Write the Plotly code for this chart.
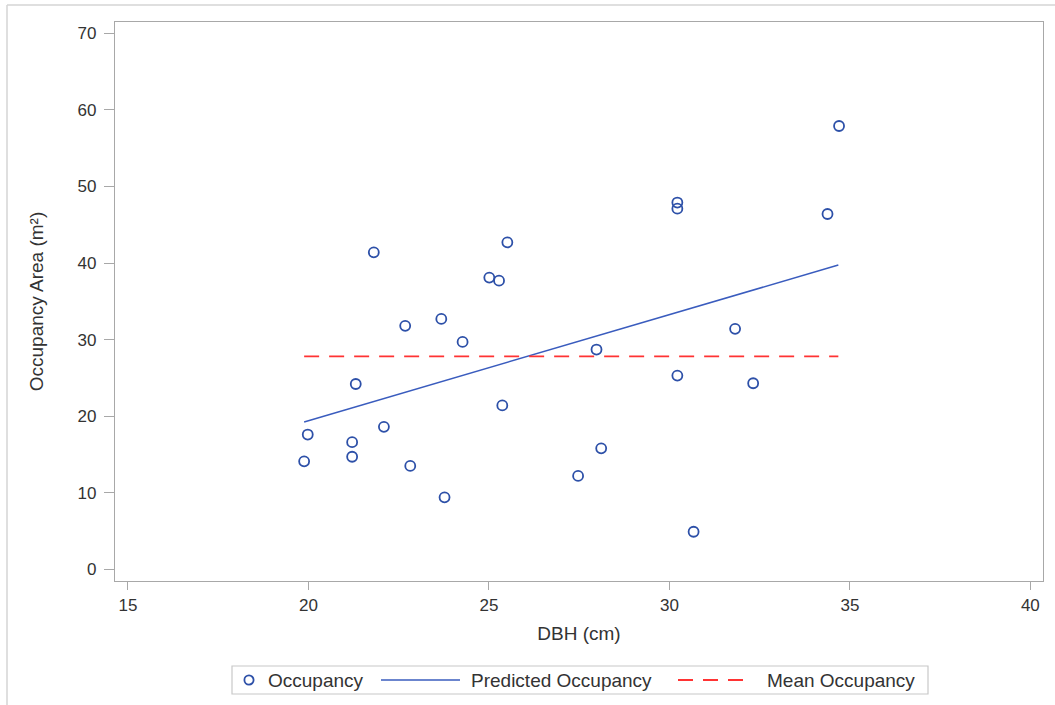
import plotly.graph_objects as go

# Data
dbh = [19.88, 19.98, 21.21, 21.21, 21.31, 21.81, 22.09, 22.68, 22.82, 23.68,
       23.77, 24.27, 25.01, 25.28, 25.37, 25.51, 27.47, 27.98, 28.11, 30.22,
       30.22, 30.22, 30.67, 31.82, 32.32, 34.38, 34.70]
occupancy = [14.1, 17.6, 16.6, 14.7, 24.2, 41.4, 18.6, 31.8, 13.5, 32.7,
             9.4, 29.7, 38.1, 37.7, 21.4, 42.7, 12.2, 28.7, 15.8, 47.9,
             47.1, 25.3, 4.9, 31.4, 24.3, 46.4, 57.9]
pred_x = [19.88, 34.68]
pred_y = [19.24, 39.74]
mean_x = [19.88, 34.68]
mean_y = [27.82, 27.82]
x_ticks = [15, 20, 25, 30, 35, 40]
y_ticks = [0, 10, 20, 30, 40, 50, 60, 70]
series_names = ["Occupancy", "Predicted Occupancy", "Mean Occupancy"]

BLUE = "#2D50A8"
LINE_BLUE = "#3A5CBE"
RED = "#FF3333"
TXT = "#333333"
FONT = "Liberation Sans, Arial, sans-serif"

fig = go.Figure()
fig.add_trace(go.Scatter(
    x=dbh, y=occupancy, mode="markers", name=series_names[0],
    marker=dict(symbol="circle-open", size=10, color=BLUE, line=dict(width=1.8, color=BLUE)),
))
fig.add_trace(go.Scatter(
    x=pred_x, y=pred_y, mode="lines", name=series_names[1],
    line=dict(color=LINE_BLUE, width=1.5),
))
fig.add_trace(go.Scatter(
    x=mean_x, y=mean_y, mode="lines", name=series_names[2],
    line=dict(color=RED, width=1.8, dash="15px,10px"),
))

W, H = 1055, 705
ml, mr, mt, mb = 115, 12, 22, 124
pw, ph = W - ml - mr, H - mt - mb

def px_x(p):
    return (p - ml) / pw

def px_y(p):
    return (H - mb - p) / ph

shapes = []
# outer light-gray border (top and left edges visible in the reference)
shapes.append(dict(type="line", xref="paper", yref="paper",
                   x0=px_x(7), x1=px_x(1055), y0=px_y(5), y1=px_y(5),
                   line=dict(color="#D4D4D4", width=1.5)))
shapes.append(dict(type="line", xref="paper", yref="paper",
                   x0=px_x(7), x1=px_x(7), y0=px_y(5), y1=px_y(705),
                   line=dict(color="#D4D4D4", width=1.5)))

# legend box
shapes.append(dict(type="rect", xref="paper", yref="paper",
                   x0=px_x(232), x1=px_x(928), y0=px_y(666), y1=px_y(694),
                   line=dict(color="#C8C8C8", width=1.2), fillcolor="rgba(0,0,0,0)"))
ly = px_y(680)
# legend symbol: open circle
shapes.append(dict(type="circle", xref="paper", yref="paper",
                   xsizemode="pixel", ysizemode="pixel",
                   xanchor=px_x(249), yanchor=ly,
                   x0=-4.6, x1=4.6, y0=-4.6, y1=4.6,
                   line=dict(color=BLUE, width=1.8)))
# legend symbol: solid line
shapes.append(dict(type="line", xref="paper", yref="paper",
                   x0=px_x(381), x1=px_x(460), y0=ly, y1=ly,
                   line=dict(color=LINE_BLUE, width=1.5)))
# legend symbol: dashed line
shapes.append(dict(type="line", xref="paper", yref="paper",
                   x0=px_x(678), x1=px_x(750), y0=ly, y1=ly,
                   line=dict(color=RED, width=1.8, dash="15px,10px")))

annotations = []
for name, xl in zip(series_names, [266, 469, 765]):
    annotations.append(dict(
        xref="paper", yref="paper", x=px_x(xl), y=ly,
        xanchor="left", yanchor="middle", showarrow=False,
        text=name, font=dict(family=FONT, size=19, color=TXT),
    ))

axis_common = dict(
    showgrid=False, zeroline=False, showline=True, mirror=True,
    linecolor="#A8A8A8", linewidth=1.2,
    ticks="outside", tickcolor="#A8A8A8", tickwidth=1.2,
    tickfont=dict(family=FONT, size=17, color=TXT),
)

fig.update_xaxes(
    range=[14.64, 40.35], tickmode="array", tickvals=x_ticks, ticklen=8,
    title=dict(text="DBH (cm)", font=dict(family=FONT, size=19, color=TXT), standoff=13),
    **axis_common,
)
fig.update_yaxes(
    range=[-1.53, 71.48], tickmode="array", tickvals=y_ticks, ticklen=10,
    ticklabelstandoff=4,
    title=dict(text="Occupancy Area (m²)", font=dict(family=FONT, size=19, color=TXT), standoff=28),
    **axis_common,
)

fig.update_layout(
    width=W, height=H,
    margin=dict(l=ml, r=mr, t=mt, b=mb, autoexpand=False),
    paper_bgcolor="white", plot_bgcolor="white",
    showlegend=False,
    shapes=shapes,
    annotations=annotations,
)

fig.write_html("out.html", config={"displayModeBar": False},
               post_script="document.body.style.margin='0';")
